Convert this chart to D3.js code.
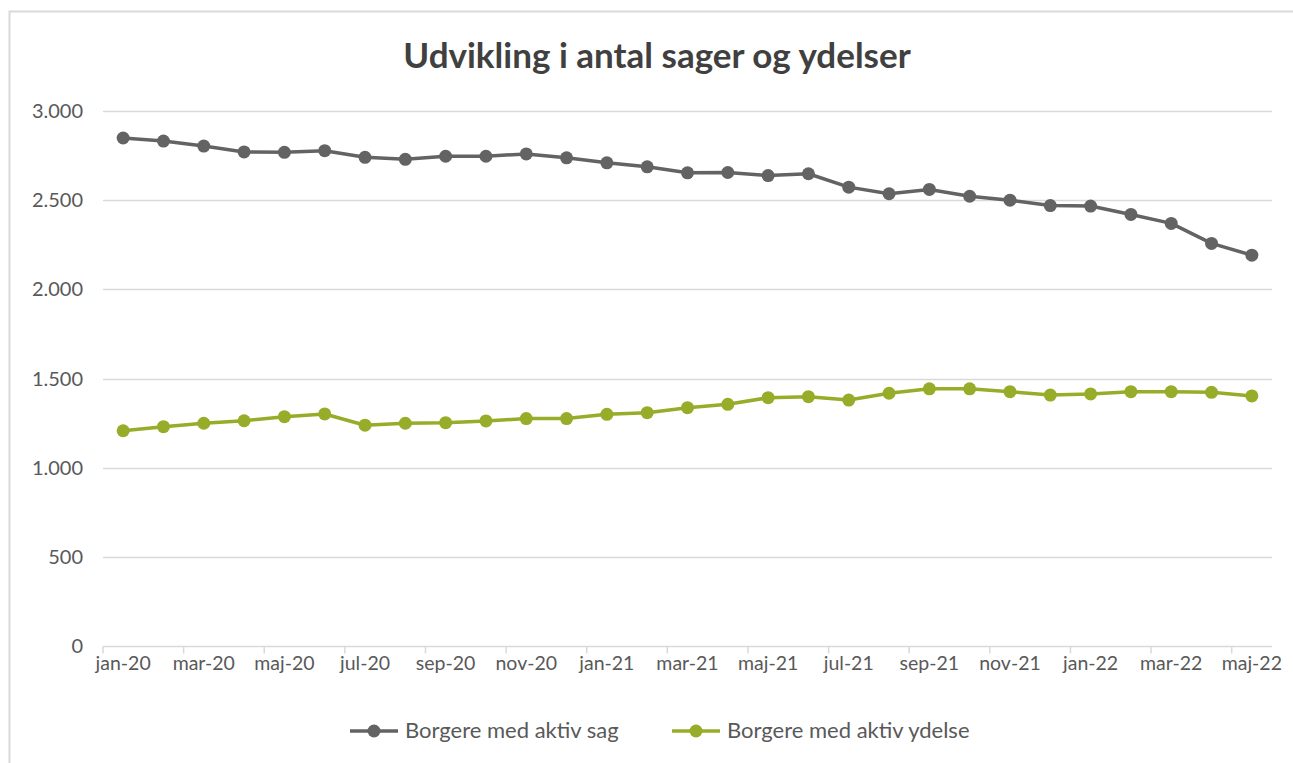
<!DOCTYPE html>
<html>
<head>
<meta charset="utf-8">
<script src="https://cdn.jsdelivr.net/npm/d3@7"></script>
<style>
  body { margin: 0; background: #fff; }
  text { font-family: Lato, "Noto Sans", sans-serif; }
</style>
</head>
<body>
<svg id="chart"></svg>
<script>
'use strict';

// data
var months = ['jan-20','feb-20','mar-20','apr-20','maj-20','jun-20','jul-20','aug-20','sep-20','okt-20','nov-20','dec-20',
              'jan-21','feb-21','mar-21','apr-21','maj-21','jun-21','jul-21','aug-21','sep-21','okt-21','nov-21','dec-21',
              'jan-22','feb-22','mar-22','apr-22','maj-22'];
var aktivSag = [2847, 2830, 2802, 2769, 2767, 2776, 2739, 2728, 2745, 2745, 2758, 2736,
                2708, 2686, 2652, 2654, 2637, 2647, 2572, 2535, 2559, 2521, 2499, 2469,
                2466, 2419, 2369, 2257, 2191];
var aktivYdelse = [1208, 1231, 1250, 1264, 1287, 1302, 1239, 1250, 1253, 1263, 1276, 1276,
                   1300, 1309, 1337, 1356, 1393, 1399, 1380, 1418, 1443, 1443, 1427, 1408,
                   1414, 1427, 1427, 1423, 1403];
var yTicks = [0, 500, 1000, 1500, 2000, 2500, 3000];
var seriesNames = ['Borgere med aktiv sag', 'Borgere med aktiv ydelse'];
var seriesColors = ['#636363', '#97ac29'];

var width = 1293, height = 763;
var svg = d3.select('#chart').attr('width', width).attr('height', height);

// chart area border (only top and left show in the picture)
svg.append('rect')
  .attr('x', 9.5).attr('y', 11.5)
  .attr('width', width + 20).attr('height', height + 20)
  .attr('fill', 'none')
  .attr('stroke', '#d9d9d9')
  .attr('stroke-width', 2);

var plot = { left: 103, right: 1272, top: 110.7, bottom: 646.5 };

var x = d3.scaleBand().domain(months).range([plot.left, plot.right]);
var y = d3.scaleLinear().domain([0, 3000]).range([plot.bottom, plot.top]);

// title
svg.append('text')
  .attr('x', 657).attr('y', 68)
  .attr('text-anchor', 'middle')
  .attr('font-size', 35)
  .attr('font-weight', 'bold')
  .attr('fill', '#404040')
  .text('Udvikling i antal sager og ydelser');

// gridlines
svg.append('g').selectAll('line')
  .data(yTicks.filter(function (d) { return d > 0; }))
  .join('line')
  .attr('x1', plot.left).attr('x2', plot.right)
  .attr('y1', function (d) { return Math.round(y(d)) + 0.5; })
  .attr('y2', function (d) { return Math.round(y(d)) + 0.5; })
  .attr('stroke', '#d9d9d9')
  .attr('stroke-width', 1.5);

// y axis labels
var yAxis = d3.axisLeft(y).tickValues(yTicks).tickSize(0).tickPadding(20)
  .tickFormat(function (d) { return d3.format(',')(d).replace(',', '.'); });
var yg = svg.append('g').attr('transform', 'translate(' + plot.left + ',0)').call(yAxis);
yg.select('.domain').remove();
yg.selectAll('text').attr('font-size', 20).attr('fill', '#595959')
  .style('font-family', 'Lato, "Noto Sans", sans-serif');

// x axis line + tick marks on category boundaries every 2 months
svg.append('line')
  .attr('x1', plot.left).attr('x2', plot.right)
  .attr('y1', plot.bottom).attr('y2', plot.bottom)
  .attr('stroke', '#d9d9d9').attr('stroke-width', 1.5);

var tickBounds = d3.range(0, months.length + 1, 2);
svg.append('g').selectAll('line')
  .data(tickBounds)
  .join('line')
  .attr('x1', function (i) { return plot.left + i * x.step(); })
  .attr('x2', function (i) { return plot.left + i * x.step(); })
  .attr('y1', plot.bottom).attr('y2', plot.bottom + 7)
  .attr('stroke', '#d9d9d9').attr('stroke-width', 1.5);

var xAxis = d3.axisBottom(x)
  .tickValues(months.filter(function (d, i) { return i % 2 === 0; }))
  .tickSize(0).tickPadding(10);
var xg = svg.append('g').attr('transform', 'translate(0,' + plot.bottom + ')').call(xAxis);
xg.select('.domain').remove();
xg.selectAll('text').attr('font-size', 19.5).attr('fill', '#595959')
  .style('font-family', 'Lato, "Noto Sans", sans-serif');

// series
var allSeries = [aktivSag, aktivYdelse];
var line = d3.line()
  .x(function (d, i) { return x(months[i]) + x.bandwidth() / 2; })
  .y(function (d) { return y(d); });

allSeries.forEach(function (vals, s) {
  svg.append('path')
    .datum(vals)
    .attr('d', line)
    .attr('fill', 'none')
    .attr('stroke', seriesColors[s])
    .attr('stroke-width', 3.5)
    .attr('stroke-linejoin', 'round');
  svg.append('g').selectAll('circle')
    .data(vals)
    .join('circle')
    .attr('cx', function (d, i) { return x(months[i]) + x.bandwidth() / 2; })
    .attr('cy', function (d) { return y(d); })
    .attr('r', 6.5)
    .attr('fill', seriesColors[s]);
});

// legend
var legendX = [350, 672];
var legend = svg.append('g');
seriesNames.forEach(function (name, s) {
  var lg = legend.append('g').attr('transform', 'translate(' + legendX[s] + ',731)');
  lg.append('line').attr('x1', 0).attr('x2', 48)
    .attr('stroke', seriesColors[s]).attr('stroke-width', 3.5);
  lg.append('circle').attr('cx', 24).attr('r', 6.5).attr('fill', seriesColors[s]);
  lg.append('text').attr('x', 55).attr('y', 7)
    .attr('font-size', 22).attr('fill', '#595959')
    .text(name);
});
</script>
</body>
</html>
